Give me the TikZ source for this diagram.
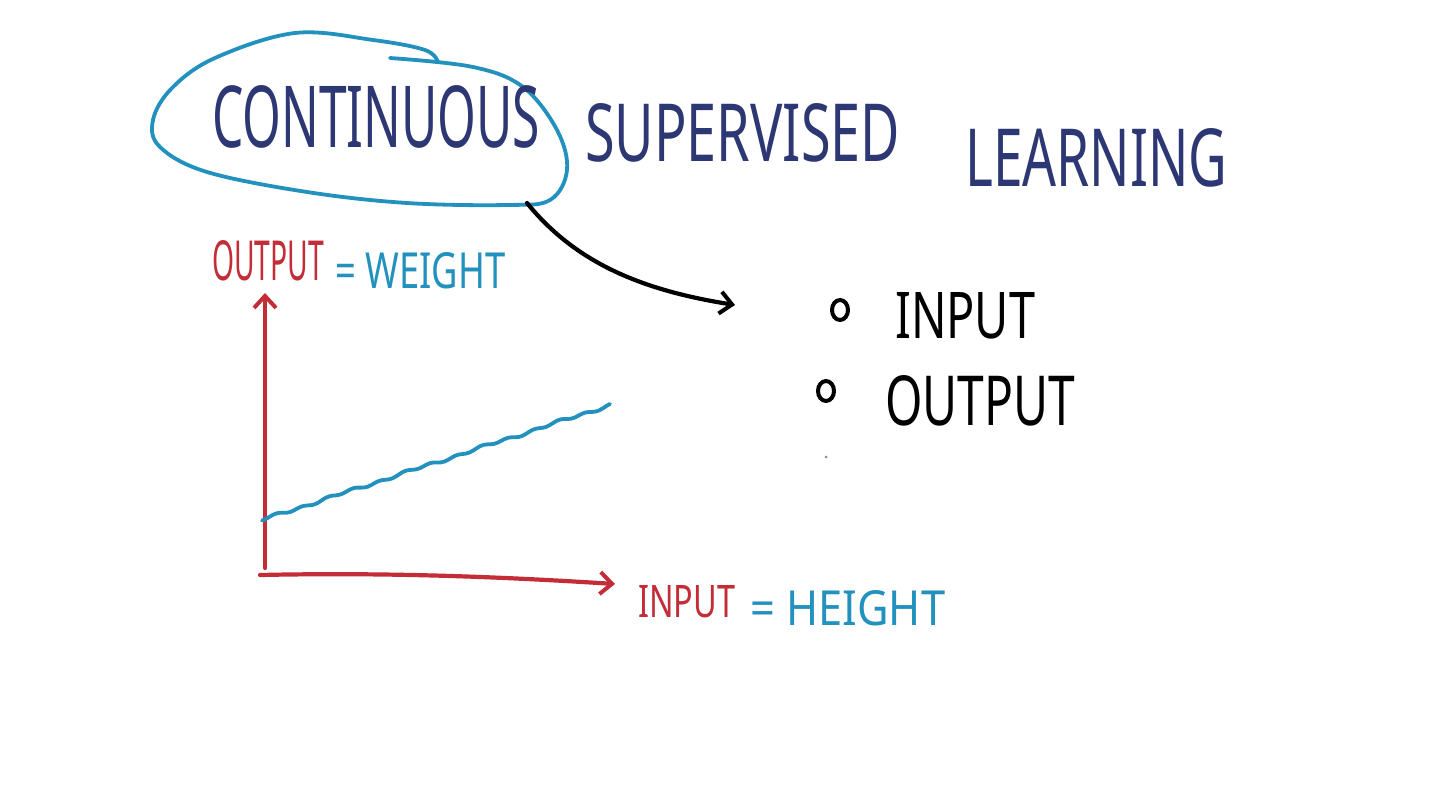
\documentclass[tikz,border=0pt]{standalone}
\usepackage{fontspec}
\setmainfont{Noto Sans}
\usetikzlibrary{arrows.meta,shapes.geometric}
\definecolor{navyink}{RGB}{45,55,115}
\definecolor{blueink}{RGB}{35,145,190}
\definecolor{redink}{RGB}{195,45,55}
\newcommand{\fitbox}[3]{\resizebox{#1pt}{#2pt}{#3}}
\tikzset{
  lbl/.style={inner sep=0pt, anchor=north west},
  stroke/.style={line width=4.2pt, line cap=round, line join=round},
  tip/.style={-{Straight Barb[length=12pt,width=22pt,line width=4pt]}},
  bullet/.style={draw=black, line width=4pt, ellipse, minimum width=16pt, minimum height=20pt, inner sep=0pt}
}
\begin{document}
\begin{tikzpicture}[x=1pt,y=-1pt]
\useasboundingbox (0,0) rectangle (1437,799);
\fill[white] (0,0) rectangle (1437,799);
% cloud around CONTINUOUS
\draw[stroke, blueink, line width=3.8pt] plot[smooth, tension=0.6] coordinates {
 (390,58) (473,67) (523,87) (557,130) (567,170) (550,200) (507,205) (407,203)
 (307,192) (207,172) (160,147) (153,120) (172,88) (215,58) (295,33) (373,40) (425,50) (438,62)};
\coordinate (cloudexit) at (527,203);
% titles
\node[lbl, text=navyink] (cont) at (212,85) {\fitbox{328}{62}{CONTINUOUS}};
\node[lbl, text=navyink] (sup) at (585,103) {\fitbox{315}{58}{SUPERVISED}};
\node[lbl, text=navyink] (learn) at (965,128) {\fitbox{262}{58}{LEARNING}};
% axis labels
\node[lbl, text=redink] (outlbl) at (212,240) {\fitbox{112}{40}{OUTPUT}};
\node[lbl, text=blueink] (weight) at (335,252) {\fitbox{170}{36}{= WEIGHT}};
\node[lbl, text=redink] (inlbl) at (638,585) {\fitbox{97}{32}{INPUT}};
\node[lbl, text=blueink] (height) at (750,590) {\fitbox{195}{35}{= HEIGHT}};
% bullets
\node[bullet] (b1) at (840,310) {};
\node[bullet] (b2) at (826,391) {};
\node[lbl, text=black] (inpt) at (895,292) {\fitbox{140}{46}{INPUT}};
\node[lbl, text=black] (outpt) at (885,375) {\fitbox{190}{50}{OUTPUT}};
\fill[black!45] (826,457) circle (1.5);
% arrow from cloud
\coordinate (arrend) at (735,305);
\draw[stroke, black, tip] (cloudexit) .. controls (575,262) and (640,290) .. (arrend);
% axes
\coordinate (origin) at (265,568);
\coordinate (ytop) at (265,293);
\coordinate (xstart) at (260,575);
\coordinate (xend) at (615,584);
\draw[stroke, redink, tip] (origin) -- (ytop);
\draw[stroke, redink, tip] (xstart) .. controls (400,572) and (520,578) .. (xend);
% data line
\draw[stroke, blueink, line width=3.8pt] plot[domain=262:610, samples=100, smooth] (\x, {520-(\x-262)*0.3305+1.2*sin(\x*14)+0.8*sin(\x*5)});
\end{tikzpicture}
\end{document}
